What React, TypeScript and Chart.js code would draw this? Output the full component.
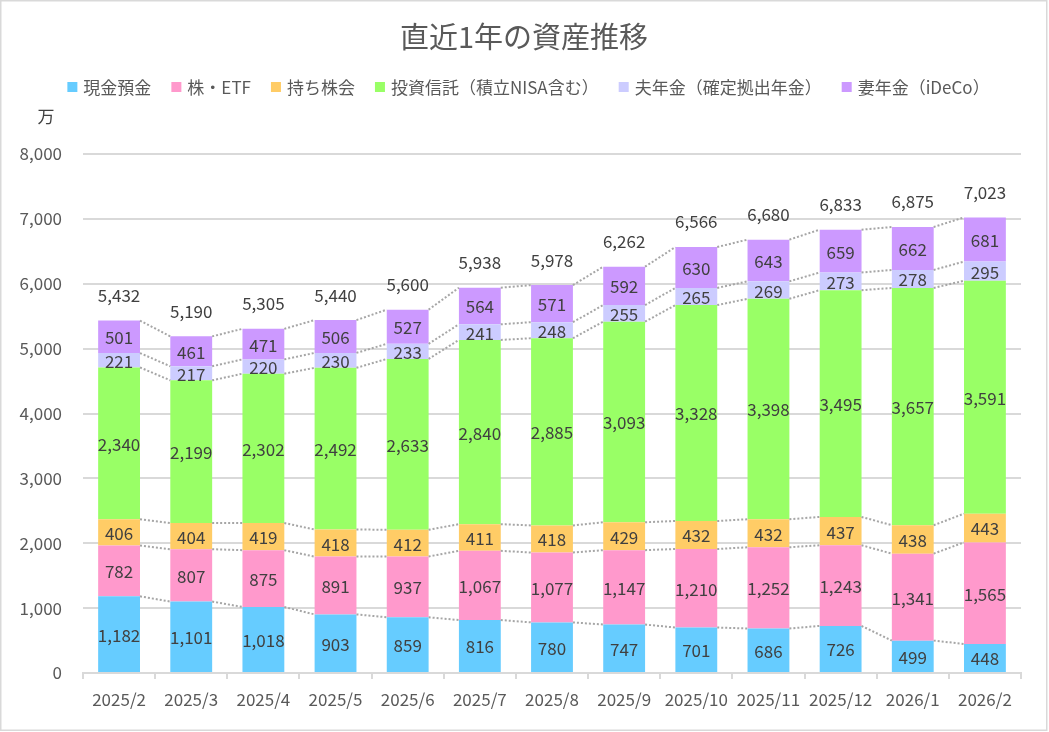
import React, { useEffect, useRef } from "react";
import { Chart, registerables } from "chart.js";

Chart.register(...registerables);

const categories = [
  "2025/2", "2025/3", "2025/4", "2025/5", "2025/6", "2025/7", "2025/8",
  "2025/9", "2025/10", "2025/11", "2025/12", "2026/1", "2026/2",
];
const cash = [1182, 1101, 1018, 903, 859, 816, 780, 747, 701, 686, 726, 499, 448];
const stocks = [782, 807, 875, 891, 937, 1067, 1077, 1147, 1210, 1252, 1243, 1341, 1565];
const employeeShares = [406, 404, 419, 418, 412, 411, 418, 429, 432, 432, 437, 438, 443];
const funds = [2340, 2199, 2302, 2492, 2633, 2840, 2885, 3093, 3328, 3398, 3495, 3657, 3591];
const husbandPension = [221, 217, 220, 230, 233, 241, 248, 255, 265, 269, 273, 278, 295];
const wifeIdeco = [501, 461, 471, 506, 527, 564, 571, 592, 630, 643, 659, 662, 681];
const totals = [5432, 5190, 5305, 5440, 5600, 5938, 5978, 6262, 6566, 6680, 6833, 6875, 7023];

const seriesNames = [
  "現金預金",
  "株・ETF",
  "持ち株会",
  "投資信託（積立NISA含む）",
  "夫年金（確定拠出年金）",
  "妻年金（iDeCo）",
];
const seriesColors = ["#66CCFF", "#FF99CC", "#FFCC66", "#99FF66", "#CCCCFF", "#CC99FF"];

const titleText = "直近1年の資産推移";
const unitText = "万";
const yMin = 0;
const yMax = 8000;
const yStep = 1000;

const FONT = "'Noto Sans CJK JP', 'Noto Sans', sans-serif";

const overlayPlugin = {
  id: "overlay",
  beforeDraw(chart: any) {
    const ctx = chart.ctx;
    ctx.save();
    ctx.fillStyle = "#ffffff";
    ctx.fillRect(0, 0, chart.width, chart.height);
    ctx.restore();
  },
  afterDatasetsDraw(chart: any) {
    const ctx = chart.ctx;
    // series lines (dotted connectors between stacked segments)
    ctx.save();
    ctx.setLineDash([2, 2]);
    ctx.strokeStyle = "#a6a6a6";
    ctx.lineWidth = 2;
    chart.data.datasets.forEach((_ds: any, di: number) => {
      const meta = chart.getDatasetMeta(di);
      for (let i = 0; i < meta.data.length - 1; i++) {
        const a: any = meta.data[i];
        const b: any = meta.data[i + 1];
        ctx.beginPath();
        ctx.moveTo(a.x + a.width / 2, a.y);
        ctx.lineTo(b.x - b.width / 2, b.y);
        ctx.stroke();
      }
    });
    ctx.restore();

    // data labels
    ctx.save();
    ctx.font = `17px ${FONT}`;
    ctx.fillStyle = "#404040";
    ctx.textAlign = "center";
    ctx.textBaseline = "middle";
    chart.data.datasets.forEach((ds: any, di: number) => {
      const meta = chart.getDatasetMeta(di);
      meta.data.forEach((el: any, i: number) => {
        const v = ds.data[i];
        ctx.fillText(v.toLocaleString("en-US"), el.x, (el.y + el.base) / 2 + 1);
      });
    });
    // totals
    const yScale = chart.scales.y;
    const meta0 = chart.getDatasetMeta(0);
    totals.forEach((t, i) => {
      const x = meta0.data[i].x;
      const y = yScale.getPixelForValue(t) - 25;
      ctx.fillText(t.toLocaleString("en-US"), x, y);
    });
    ctx.restore();
  },
  afterDraw(chart: any) {
    const ctx = chart.ctx;
    ctx.save();
    // title
    ctx.font = `29px ${FONT}`;
    ctx.fillStyle = "#595959";
    ctx.textAlign = "center";
    ctx.textBaseline = "middle";
    ctx.fillText(titleText, 524, 37);

    // legend
    ctx.font = `17px ${FONT}`;
    const box = 10;
    const gapBox = 6;
    const gapItem = 20;
    const widths = seriesNames.map((n) => box + gapBox + ctx.measureText(n).width);
    const total = widths.reduce((s, w) => s + w, 0) + gapItem * (widths.length - 1);
    let x = 528.5 - total / 2;
    const ly = 87;
    ctx.textAlign = "left";
    seriesNames.forEach((n, i) => {
      ctx.fillStyle = seriesColors[i];
      ctx.fillRect(x, ly - box / 2, box, box);
      ctx.fillStyle = "#595959";
      ctx.fillText(n, x + box + gapBox, ly + 1);
      x += widths[i] + gapItem;
    });

    // unit label
    ctx.font = `17px ${FONT}`;
    ctx.fillStyle = "#404040";
    ctx.textAlign = "center";
    ctx.fillText(unitText, 46, 117);

    // border
    ctx.strokeStyle = "#d9d9d9";
    ctx.lineWidth = 1.5;
    ctx.strokeRect(0.75, 0.75, 1046, 729.5);
    ctx.restore();
  },
};

export default function App() {
  const ref = useRef<HTMLCanvasElement | null>(null);

  useEffect(() => {
    if (!ref.current) return;
    const data = [cash, stocks, employeeShares, funds, husbandPension, wifeIdeco];
    const chart = new Chart(ref.current, {
      type: "bar",
      data: {
        labels: categories,
        datasets: data.map((d, i) => ({
          label: seriesNames[i],
          data: d,
          backgroundColor: seriesColors[i],
          borderWidth: 0,
          barPercentage: 0.58,
          categoryPercentage: 1,
        })),
      },
      options: {
        responsive: false,
        animation: false,
        locale: "en-US",
        layout: { padding: { top: 154, right: 28, bottom: 0, left: 0 } },
        plugins: {
          legend: { display: false },
          title: { display: false },
          tooltip: { enabled: false },
        },
        scales: {
          x: {
            stacked: true,
            afterFit: (scale: any) => {
              scale.height = 59;
            },
            grid: {
              offset: true,
              drawOnChartArea: false,
              drawTicks: true,
              tickLength: 6,
              color: "#d9d9d9",
              lineWidth: 2,
            },
            border: { display: true, color: "#d9d9d9", width: 2 },
            ticks: {
              font: { family: FONT, size: 17 },
              color: "#595959",
              padding: 10,
              maxRotation: 0,
              autoSkip: false,
            },
          },
          y: {
            stacked: true,
            min: yMin,
            max: yMax,
            afterFit: (scale: any) => {
              scale.width = 83;
            },
            grid: {
              color: "#d9d9d9",
              lineWidth: 2,
              drawTicks: false,
              tickLength: 0,
            },
            border: { display: false },
            ticks: {
              stepSize: yStep,
              font: { family: FONT, size: 17 },
              color: "#595959",
              padding: 21,
            },
          },
        },
      },
      plugins: [overlayPlugin],
    });
    return () => chart.destroy();
  }, []);

  return (
    <div style={{ position: "fixed", left: 0, top: 0, width: 1049, height: 732, background: "#fff" }}>
      <canvas ref={ref} width={1049} height={732} style={{ display: "block" }} />
    </div>
  );
}
